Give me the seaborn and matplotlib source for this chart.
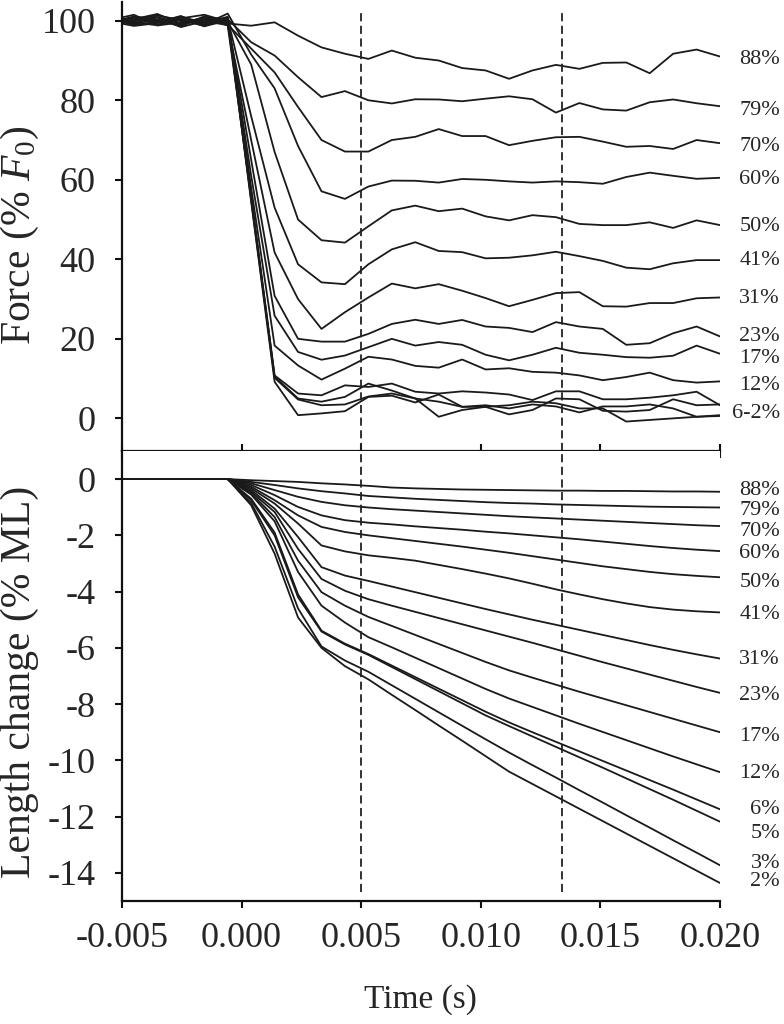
import matplotlib
matplotlib.use("Agg")
import numpy as np
import pandas as pd
import matplotlib.pyplot as plt
import seaborn as sns

sns.set_style("ticks")
plt.rcParams["font.family"] = ["Liberation Serif", "DejaVu Serif"]
plt.rcParams["mathtext.fontset"] = "custom"
plt.rcParams["mathtext.rm"] = "Liberation Serif"
plt.rcParams["mathtext.it"] = "Liberation Serif:italic"
plt.rcParams["axes.unicode_minus"] = False

# === Data ===
time_ms = [-5.48, -4.50, -3.52, -2.54, -1.56, -0.58, 0.40, 1.38, 2.36, 3.34,
           4.32, 5.30, 6.28, 7.26, 8.24, 9.22, 10.20, 11.18, 12.16, 13.14,
           14.12, 15.10, 16.08, 17.06, 18.04, 19.02, 20.00]

levels = ["88%", "79%", "70%", "60%", "50%", "41%", "31%", "23%", "17%", "12%",
          "6%", "5%", "3%", "2%"]

# force (% F0)
force_88 = [100.6, 99.7, 100.9, 99.4, 100.2, 99.3, 98.75, 99.6, 96.25, 93.3, 91.7, 90.4, 92.5,
            90.7, 90.0, 88.1, 87.5, 85.4, 87.5, 88.9, 87.9, 89.4, 89.5, 86.8, 91.7, 92.75, 91.0]
force_79 = [99.0, 100.8, 99.6, 101.2, 98.9, 100.4, 94.6, 91.25, 85.8, 80.8, 82.3, 80.0, 79.2,
            80.25, 80.2, 79.75, 80.4, 81.0, 80.25, 76.9, 79.3, 77.7, 77.4, 79.5, 80.2, 79.25, 78.5]
force_70 = [101.2, 99.3, 100.2, 98.6, 100.9, 99.0, 93.0, 87.0, 78.3, 70.0, 67.1, 67.1, 70.0,
            70.8, 72.75, 71.0, 71.0, 68.7, 69.8, 70.7, 70.8, 69.6, 68.3, 68.5, 67.75, 70.0, 69.2]
force_60 = [98.5, 100.3, 101.4, 99.9, 99.1, 101.8, 91.5, 83.0, 68.5, 57.1, 55.2, 58.3, 59.8,
            59.75, 59.3, 60.2, 60.0, 59.6, 59.3, 59.6, 59.4, 59.0, 60.7, 61.8, 61.0, 60.25, 60.5]
force_50 = [99.8, 98.7, 99.4, 100.6, 101.5, 99.8, 89.0, 67.0, 50.0, 44.8, 44.2, 48.3, 52.3,
            53.5, 52.1, 52.75, 50.8, 49.8, 51.1, 50.6, 48.9, 48.6, 48.6, 49.3, 47.9, 49.8, 48.6]
force_41 = [100.2, 101.5, 98.8, 99.6, 100.7, 100.5, 76.0, 53.0, 38.75, 34.2, 33.75, 38.75, 42.5,
            44.3, 42.1, 41.8, 40.25, 40.4, 41.0, 41.9, 40.8, 39.6, 37.9, 37.5, 39.0, 39.8, 39.8]
force_31 = [99.3, 100.1, 100.8, 98.4, 99.9, 98.9, 70.0, 41.7, 30.0, 22.5, 26.7, 30.4, 33.9,
            32.7, 33.75, 32.1, 30.25, 28.2, 29.8, 31.5, 31.75, 28.2, 28.1, 29.0, 29.0, 30.2, 30.4]
force_23 = [100.9, 99.4, 99.0, 100.6, 98.6, 100.1, 65.0, 30.8, 20.0, 19.3, 19.3, 21.25, 23.75,
            24.8, 23.75, 24.75, 23.1, 22.75, 21.7, 24.2, 23.1, 22.5, 18.5, 18.9, 21.4, 23.1, 20.6]
force_17 = [98.8, 100.4, 101.7, 99.2, 100.5, 99.6, 61.0, 25.8, 16.7, 14.75, 15.8, 17.9, 20.0,
            18.3, 19.2, 18.5, 16.0, 14.6, 16.0, 17.75, 16.5, 16.0, 15.4, 15.25, 15.75, 18.3, 16.25]
force_12 = [100.4, 99.0, 99.7, 101.0, 99.5, 100.7, 58.0, 18.3, 13.3, 9.75, 12.5, 15.5, 14.8,
            13.2, 12.75, 14.8, 12.3, 12.6, 11.7, 11.5, 10.8, 9.6, 10.4, 11.5, 9.6, 9.0, 9.3]
force_6 = [99.5, 101.1, 100.3, 99.0, 100.8, 98.8, 56.0, 10.8, 6.25, 5.8, 8.3, 7.9, 8.75,
           6.7, 6.25, 6.8, 6.5, 6.0, 4.6, 6.8, 6.8, 4.8, 4.8, 5.2, 5.8, 6.7, 3.3]
force_5 = [101.3, 99.6, 98.9, 100.4, 99.3, 101.0, 55.5, 10.5, 5.0, 4.2, 5.4, 8.75, 7.0,
           5.0, 0.4, 2.1, 2.9, 1.0, 2.1, 5.0, 4.8, 1.9, 1.7, 2.1, 4.8, 3.3, 3.5]
force_3 = [99.7, 100.9, 100.0, 98.8, 101.1, 99.9, 55.0, 10.2, 4.75, 3.3, 3.5, 5.5, 6.25,
           5.0, 4.2, 2.9, 2.9, 3.3, 4.2, 3.8, 2.5, 2.5, -0.8, -0.4, 0.0, 0.4, 0.8]
force_2 = [100.1, 99.2, 101.3, 100.2, 98.7, 100.6, 54.5, 9.2, 0.8, 1.25, 1.8, 5.4, 5.7,
           4.0, 6.0, 2.9, 3.3, 2.5, 3.5, 3.0, 1.5, 3.0, 3.0, 3.5, 2.5, 0.4, 0.6]

# length change (% ML)
flat = [0.0, 0.0, 0.0, 0.0, 0.0, 0.0]
length_88 = flat + [-0.04, -0.07, -0.10, -0.15, -0.19, -0.24, -0.30, -0.33, -0.35, -0.37, -0.38,
                    -0.39, -0.40, -0.41, -0.41, -0.42, -0.42, -0.43, -0.44, -0.44, -0.45]
length_79 = flat + [-0.10, -0.21, -0.33, -0.43, -0.51, -0.60, -0.65, -0.70, -0.74, -0.78, -0.82,
                    -0.85, -0.87, -0.90, -0.92, -0.94, -0.96, -0.98, -0.99, -1.00, -1.01]
length_70 = flat + [-0.15, -0.39, -0.63, -0.81, -0.93, -1.01, -1.07, -1.12, -1.17, -1.22, -1.27,
                    -1.32, -1.36, -1.40, -1.44, -1.48, -1.52, -1.56, -1.60, -1.64, -1.67]
length_60 = flat + [-0.21, -0.57, -0.99, -1.29, -1.46, -1.55, -1.61, -1.68, -1.74, -1.80, -1.87,
                    -1.93, -2.00, -2.07, -2.14, -2.22, -2.30, -2.38, -2.45, -2.51, -2.56]
length_50 = flat + [-0.27, -0.75, -1.29, -1.70, -1.88, -2.00, -2.10, -2.20, -2.30, -2.40, -2.51,
                    -2.62, -2.74, -2.86, -2.98, -3.10, -3.20, -3.30, -3.38, -3.44, -3.49]
length_41 = flat + [-0.33, -0.87, -1.58, -2.36, -2.57, -2.71, -2.80, -2.90, -3.05, -3.20, -3.36,
                    -3.53, -3.72, -3.92, -4.10, -4.27, -4.42, -4.55, -4.64, -4.70, -4.74]
length_31 = flat + [-0.39, -1.05, -2.06, -3.13, -3.43, -3.62, -3.82, -4.02, -4.22, -4.42, -4.62,
                    -4.81, -5.00, -5.18, -5.36, -5.54, -5.72, -5.90, -6.07, -6.23, -6.38]
length_23 = flat + [-0.45, -1.17, -2.48, -3.55, -3.97, -4.27, -4.50, -4.72, -4.94, -5.16, -5.38,
                    -5.60, -5.82, -6.05, -6.28, -6.51, -6.73, -6.95, -7.17, -7.39, -7.60]
length_17 = flat + [-0.50, -1.35, -2.90, -4.02, -4.50, -4.90, -5.22, -5.54, -5.86, -6.18, -6.50,
                    -6.80, -7.06, -7.31, -7.56, -7.80, -8.04, -8.28, -8.52, -8.76, -9.00]
length_12 = flat + [-0.55, -1.50, -3.30, -4.50, -5.10, -5.62, -5.98, -6.35, -6.72, -7.09, -7.46,
                    -7.80, -8.10, -8.40, -8.70, -8.99, -9.28, -9.57, -9.86, -10.14, -10.42]
length_6 = flat + [-0.70, -1.90, -4.10, -5.39, -5.85, -6.22, -6.63, -7.04, -7.45, -7.86, -8.27,
                   -8.65, -9.00, -9.34, -9.68, -10.02, -10.36, -10.70, -11.04, -11.39, -11.74]
length_5 = flat + [-0.75, -2.00, -4.20, -5.42, -5.88, -6.25, -6.68, -7.11, -7.54, -7.97, -8.40,
                   -8.78, -9.15, -9.52, -9.89, -10.26, -10.64, -11.02, -11.40, -11.79, -12.18]
length_3 = flat + [-0.85, -2.40, -4.60, -5.95, -6.45, -6.85, -7.33, -7.81, -8.29, -8.77, -9.25,
                   -9.72, -10.17, -10.61, -11.06, -11.50, -11.95, -12.39, -12.84, -13.28, -13.73]
length_2 = flat + [-0.93, -2.65, -4.92, -6.00, -6.65, -7.12, -7.67, -8.21, -8.76, -9.30, -9.85,
                   -10.40, -10.84, -11.28, -11.72, -12.16, -12.60, -13.04, -13.48, -13.92, -14.36]

dash_times = [0.005, 0.0134]

force_labels = ["88%", "79%", "70%", "60%", "50%", "41%", "31%", "23%", "17%", "12%", "6-2%"]
length_labels = levels

force_curves = [force_88, force_79, force_70, force_60, force_50, force_41, force_31,
                force_23, force_17, force_12, force_6, force_5, force_3, force_2]
length_curves = [length_88, length_79, length_70, length_60, length_50, length_41, length_31,
                 length_23, length_17, length_12, length_6, length_5, length_3, length_2]

rows = []
for lab, f, l in zip(levels, force_curves, length_curves):
    for t, fv, lv in zip(time_ms, f, l):
        rows.append({"time": t / 1000.0, "force": fv, "length": lv, "level": lab})
df = pd.DataFrame(rows)

# label heights next to line ends
force_label_y = [90.2, 77.5, 68.3, 60.0, 48.3, 39.6, 30.2, 20.7, 15.0, 8.3, 1.25]
length_label_y = [-0.42, -1.11, -1.88, -2.65, -3.67, -4.8, -6.4, -7.71, -9.14, -10.45,
                  -11.76, -12.6, -13.67, -14.32]

# === Figure ===
fig = plt.figure(figsize=(7.84, 10.24), dpi=100)
ax1 = fig.add_axes([0.1556, 0.5596, 0.7628, 0.4384])
ax2 = fig.add_axes([0.1556, 0.1201, 0.7628, 0.4395])

line_kw = dict(hue="level", hue_order=levels, palette=["#1a1a1a"] * len(levels),
               estimator=None, legend=False, linewidth=1.3, sort=False)
sns.lineplot(data=df, x="time", y="force", ax=ax1, **line_kw)
sns.lineplot(data=df, x="time", y="length", ax=ax2, **line_kw)

dash = (0, (4.5, 2.5))
for xv in dash_times:
    ax1.axvline(xv, ymin=0, ymax=0.985, color="#222222", lw=1.3, ls=dash)
    ax2.axvline(xv, ymin=0.02, ymax=1, color="#222222", lw=1.3, ls=dash)

xticks = [-0.005, 0.0, 0.005, 0.010, 0.015, 0.020]
for ax in (ax1, ax2):
    ax.set_xlim(-0.005, 0.020)
    ax.set_xticks(xticks)
    ax.set_xlabel("")
    ax.set_ylabel("")
    ax.spines["top"].set_visible(False)
    ax.spines["right"].set_visible(False)
    for s in ("left", "bottom"):
        ax.spines[s].set_linewidth(1.6)
        ax.spines[s].set_color("#111111")
    ax.tick_params(axis="y", direction="out", length=5, width=1.5, labelsize=26, pad=14,
                   color="#111111")

ax1.set_ylim(-8.2, 104.7)
ax1.set_yticks([0, 20, 40, 60, 80, 100])
ax1.tick_params(axis="x", direction="inout", length=10, width=1.5, labelbottom=False,
                color="#111111")

ax2.set_ylim(-15.0, 1.0)
ax2.set_yticks([0, -2, -4, -6, -8, -10, -12, -14])
ax2.set_xticklabels([f"{v:.3f}" for v in xticks])
ax2.tick_params(axis="x", direction="out", length=5, width=1.5, labelsize=26, pad=10,
                color="#111111")

for s, y in zip(force_labels, force_label_y):
    ax1.text(1.1003, y, s, transform=ax1.get_yaxis_transform(), ha="right", va="center",
             fontsize=16, clip_on=False)
for s, y in zip(length_labels, length_label_y):
    ax2.text(1.1003, y, s, transform=ax2.get_yaxis_transform(), ha="right", va="center",
             fontsize=16, clip_on=False)

fig.text(20 / 784, 1 - 235 / 1024, r"Force (% $\mathit{F}_{\mathit{0}}$)", rotation=90,
         ha="center", va="center", fontsize=30)
fig.text(20 / 784, 1 - 682 / 1024, "Length change (% ML)", rotation=90,
         ha="center", va="center", fontsize=30)
fig.text(420 / 784, 1 - 1000 / 1024, "Time (s)", ha="center", va="center", fontsize=24)

fig.savefig("out.png", dpi=100)
